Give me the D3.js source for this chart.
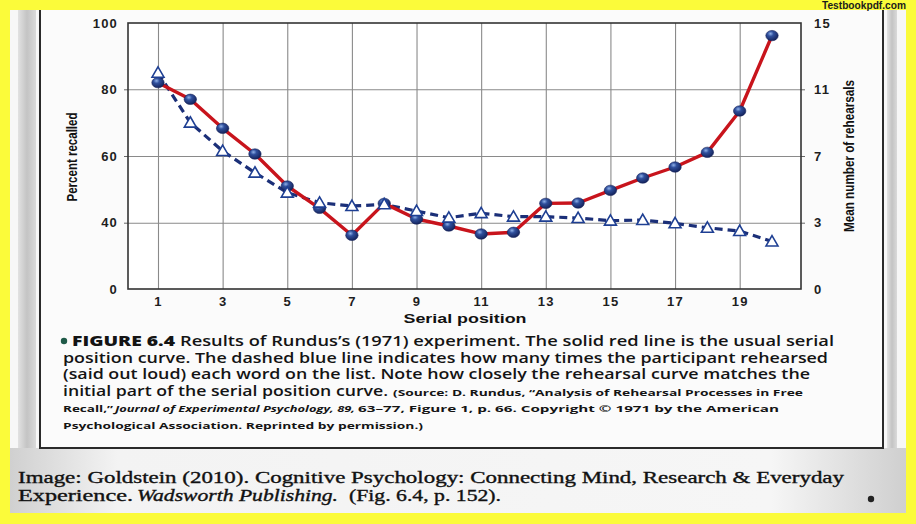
<!DOCTYPE html>
<html><head><meta charset="utf-8">
<script src="https://cdn.jsdelivr.net/npm/d3@7"></script>
<style>body{margin:0;background:#fbfb3a;} svg{display:block}</style>
</head><body><svg id="c" width="916" height="524"></svg>
<script>
// ---- data ----
const serialPositions = [1,2,3,4,5,6,7,8,9,10,11,12,13,14,15,16,17,18,19,20];
const percentRecalled = [82,77,68.3,60.6,51,44.3,32.4,45.8,41.1,38,33.2,34.2,45.8,45.9,49.7,53.4,56.7,61.1,73.5,96.2];
const meanRehearsals  = [12,9.0,7.3,6.0,4.8,4.2,4.0,4.1,3.7,3.3,3.57,3.36,3.36,3.28,3.12,3.16,2.97,2.77,2.62,2.15];
const leftTicks  = [0,40,60,80,100];
const rightTicks = [0,3,7,11,15];
const xTicks     = [1,3,5,7,9,11,13,15,17,19];

const svg = d3.select("#c");
const defs = svg.append("defs");

// ---- page / scan background ----
const lg = defs.append("linearGradient").attr("id","strip").attr("x1","0").attr("x2","1");
lg.append("stop").attr("offset","0").attr("stop-color","#e2e2e2");
lg.append("stop").attr("offset","0.5").attr("stop-color","#c4c4c4");
lg.append("stop").attr("offset","1").attr("stop-color","#dadada");
const bg = defs.append("linearGradient").attr("id","bottomg").attr("x1","0").attr("x2","1");
bg.append("stop").attr("offset","0").attr("stop-color","#d0d0d0");
bg.append("stop").attr("offset","0.12").attr("stop-color","#f3f3f3");
bg.append("stop").attr("offset","0.85").attr("stop-color","#f6f6f6");
bg.append("stop").attr("offset","1").attr("stop-color","#cfcfcf");
const rg = defs.append("radialGradient").attr("id","ball").attr("cx","0.38").attr("cy","0.32").attr("r","0.7");
rg.append("stop").attr("offset","0").attr("stop-color","#8fb0e8");
rg.append("stop").attr("offset","0.35").attr("stop-color","#2f4f9c");
rg.append("stop").attr("offset","1").attr("stop-color","#14225a");

svg.append("rect").attr("x",10).attr("y",10).attr("width",896).attr("height",503).attr("fill","#f7f7f7");
svg.append("rect").attr("x",10).attr("y",448).attr("width",896).attr("height",65).attr("fill","url(#bottomg)");
svg.append("rect").attr("x",18).attr("y",10).attr("width",18).attr("height",438).attr("fill","url(#strip)");
svg.append("rect").attr("x",887).attr("y",10).attr("width",10).attr("height",438).attr("fill","url(#strip)");
svg.append("rect").attr("x",41).attr("y",10).attr("width",842).attr("height",438).attr("fill","#fbfbfb");
svg.append("path").attr("d","M40,10V448H883V10").attr("fill","none").attr("stroke","#2a2a2a").attr("stroke-width",2);

svg.append("text").attr("x",822).attr("y",9).attr("textLength",84).attr("lengthAdjust","spacingAndGlyphs")
  .attr("font-family","Liberation Sans, Arial, sans-serif").attr("font-weight","bold").attr("font-size",11.5)
  .attr("fill","#1c1c1c").text("Testbookpdf.com");

// ---- scales ----
const L = 128, R = 801, T = 23, B = 289;
const x  = d3.scaleLinear().domain([1,20]).range([158,772]);
const yL = d3.scaleLinear().domain([0,40,60,80,100]).range([B,222.7,156,89.3,T]);
const yR = d3.scaleLinear().domain([0,3,7,11,15]).range([B,222.7,156,89.3,T]);

svg.append("rect").attr("x",L).attr("y",T).attr("width",R-L).attr("height",B-T).attr("fill","#ffffff");

// grid
const gy = svg.append("g").attr("transform",`translate(${L},0)`)
  .call(d3.axisLeft(yL).tickValues([40,60,80]).tickSize(-(R-L)).tickFormat(""));
gy.select(".domain").remove();
gy.selectAll("line").attr("stroke","#8a8a8a").attr("stroke-width",1.1);
const gx = svg.append("g").attr("transform",`translate(0,${B})`)
  .call(d3.axisBottom(x).tickValues(xTicks).tickSize(-(B-T)).tickFormat(""));
gx.select(".domain").remove();
gx.selectAll("line").attr("stroke","#8a8a8a").attr("stroke-width",1.1);
svg.append("g").attr("transform",`translate(${L},0)`).call(d3.axisLeft(yL).tickValues([40,60,80]).tickSize(4).tickFormat(""))
  .call(g=>{g.select(".domain").remove(); g.selectAll("line").attr("stroke","#666");});
svg.append("g").attr("transform",`translate(${R},0)`).call(d3.axisRight(yR).tickValues([3,7,11]).tickSize(4).tickFormat(""))
  .call(g=>{g.select(".domain").remove(); g.selectAll("line").attr("stroke","#666");});

// frame
svg.append("rect").attr("x",L).attr("y",T).attr("width",R-L).attr("height",B-T)
  .attr("fill","none").attr("stroke","#333").attr("stroke-width",1.6);

// tick labels
const tickFont = g => g.selectAll("text").attr("font-family","Liberation Sans, Arial, sans-serif")
  .attr("font-weight","bold").attr("font-size",13).attr("letter-spacing",1.2).attr("fill","#1e1e1e");
const al = svg.append("g").attr("transform",`translate(${L},0)`)
  .call(d3.axisLeft(yL).tickValues(leftTicks).tickSize(0).tickPadding(10));
al.select(".domain").remove(); al.call(tickFont);
const ar = svg.append("g").attr("transform",`translate(${R},0)`)
  .call(d3.axisRight(yR).tickValues(rightTicks).tickSize(0).tickPadding(13));
ar.select(".domain").remove(); ar.call(tickFont);
const ab = svg.append("g").attr("transform",`translate(0,${B})`)
  .call(d3.axisBottom(x).tickValues(xTicks).tickSize(0).tickPadding(8));
ab.select(".domain").remove(); ab.call(tickFont);

// axis titles
svg.append("text").attr("transform","translate(77,157) rotate(-90)").attr("text-anchor","middle")
  .attr("font-family","Liberation Sans Narrow, Liberation Sans, Arial, sans-serif").attr("font-weight","bold")
  .attr("font-size",14).attr("textLength",89).attr("lengthAdjust","spacingAndGlyphs").attr("fill","#111").text("Percent recalled");
svg.append("text").attr("transform","translate(854,156) rotate(-90)").attr("text-anchor","middle")
  .attr("font-family","Liberation Sans Narrow, Liberation Sans, Arial, sans-serif").attr("font-weight","bold")
  .attr("font-size",14).attr("textLength",152).attr("lengthAdjust","spacingAndGlyphs").attr("fill","#111").text("Mean number of rehearsals");
svg.append("text").attr("x",465).attr("y",323).attr("text-anchor","middle")
  .attr("font-family","Liberation Sans, Arial, sans-serif").attr("font-weight","bold")
  .attr("font-size",13.5).attr("textLength",123).attr("lengthAdjust","spacingAndGlyphs").attr("fill","#111").text("Serial position");

// ---- series ----
const recData = serialPositions.map((p,i)=>({p, v:percentRecalled[i]}));
const rehData = serialPositions.map((p,i)=>({p, v:meanRehearsals[i]}));

svg.append("path").datum(rehData)
  .attr("d", d3.line().x(d=>x(d.p)).y(d=>yR(d.v)))
  .attr("fill","none").attr("stroke","#1b2f78").attr("stroke-width",3.2).attr("stroke-dasharray","8,5");
svg.append("path").datum(recData)
  .attr("d", d3.line().x(d=>x(d.p)).y(d=>yL(d.v)))
  .attr("fill","none").attr("stroke","#c8141c").attr("stroke-width",3.4).attr("stroke-linejoin","round");
svg.selectAll("ellipse.rec").data(recData).join("ellipse").attr("class","rec")
  .attr("cx",d=>x(d.p)).attr("cy",d=>yL(d.v)).attr("rx",6.2).attr("ry",5.2)
  .attr("fill","url(#ball)").attr("stroke","#14225a").attr("stroke-width",0.6);
svg.selectAll("path.reh").data(rehData).join("path").attr("class","reh")
  .attr("transform",d=>`translate(${x(d.p)},${yR(d.v)+1})`)
  .attr("d", d3.symbol(d3.symbolTriangle).size(62))
  .attr("fill","#ffffff").attr("stroke","#1e3f93").attr("stroke-width",1.6);

// ---- caption ----
const capFamily = "Open Sans, Lato, sans-serif";
function t(xp, yp, str, len, size, weight, style){
  const e = svg.append("text").attr("x",xp).attr("y",yp).attr("font-family",capFamily)
    .attr("font-size",size).attr("font-weight",weight||600).attr("fill","#141414").text(str);
  if(style) e.attr("font-style",style);
  if(len) e.attr("textLength",len).attr("lengthAdjust","spacingAndGlyphs");
  return e;
}
svg.append("circle").attr("cx",64).attr("cy",341).attr("r",3.2).attr("fill","#1f5a48");
t(72,346,"FIGURE 6.4",103,13.5,800);
t(180,346,"Results of Rundus\u2019s (1971) experiment. The solid red line is the usual serial",654,13.5);
t(63,362.5,"position curve. The dashed blue line indicates how many times the participant rehearsed",765,13.5);
t(63,379,"(said out loud) each word on the list. Note how closely the rehearsal curve matches the",747,13.5);
t(63,395.5,"initial part of the serial position curve.",325,13.5);
t(393,395.5,"(Source: D. Rundus, \u201CAnalysis of Rehearsal Processes in Free",410,9.5,700);
t(63,412,"Recall,\u201D",50,9.5,700);
t(115,412,"Journal of Experimental Psychology, 89,",240,9.5,700,"italic");
t(358,412,"63\u201377, Figure 1, p. 66. Copyright \u00A9 1971 by the American",421,9.5,700);
t(63,429,"Psychological Association. Reprinted by permission.)",360,9.5,700);

const serif = "Liberation Serif, DejaVu Serif, serif";
function s(xp, yp, str, len, style){
  const e = svg.append("text").attr("x",xp).attr("y",yp).attr("font-family",serif).attr("font-size",16.5)
    .attr("fill","#111").attr("stroke","#111").attr("stroke-width",0.35)
    .attr("textLength",len).attr("lengthAdjust","spacingAndGlyphs").text(str);
  if(style) e.attr("font-style",style);
}
s(18,482.5,"Image: Goldstein (2010). Cognitive Psychology: Connecting Mind, Research & Everyday",826);
s(18,501,"Experience.",115);
s(137,501,"Wadsworth Publishing.",201,"italic");
s(349,501,"(Fig. 6.4, p. 152).",152);
svg.append("circle").attr("cx",871).attr("cy",499).attr("r",3.2).attr("fill","#222");
</script></body></html>
